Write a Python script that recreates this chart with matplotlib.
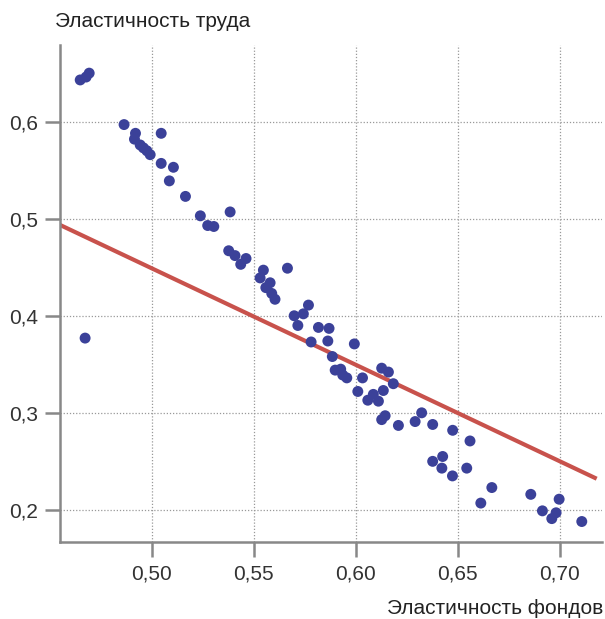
"""Эластичность труда vs эластичность фондов
"""
import matplotlib
matplotlib.use('Agg')
import matplotlib.pyplot as plt
from matplotlib.ticker import FuncFormatter

# points
elast_fondov = [0.4650, 0.4679, 0.4694, 0.4674, 0.4865, 0.4921, 0.4916, 0.4944,
                0.4960, 0.4977, 0.4993, 0.5047, 0.5047, 0.5107, 0.5087, 0.5166,
                0.5239, 0.5275, 0.5305, 0.5385, 0.5378, 0.5409, 0.5437, 0.5463,
                0.5548, 0.5532, 0.5581, 0.5560, 0.5589, 0.5605, 0.5666, 0.5699,
                0.5717, 0.5769, 0.5744, 0.5782, 0.5818, 0.5870, 0.5864, 0.5886,
                0.5900, 0.5927, 0.5937, 0.5957, 0.5994, 0.6011, 0.6034, 0.6060,
                0.6087, 0.6112, 0.6128, 0.6161, 0.6136, 0.6185, 0.6128, 0.6145,
                0.6210, 0.6292, 0.6324, 0.6378, 0.6476, 0.6561, 0.6378, 0.6427,
                0.6423, 0.6475, 0.6545, 0.6668, 0.6614, 0.6859, 0.6916, 0.6962,
                0.6983, 0.6998, 0.7109]
elast_truda = [0.643, 0.646, 0.650, 0.377, 0.597, 0.588, 0.582, 0.576,
               0.573, 0.570, 0.566, 0.588, 0.557, 0.553, 0.539, 0.523,
               0.503, 0.493, 0.492, 0.507, 0.467, 0.462, 0.453, 0.459,
               0.447, 0.439, 0.434, 0.429, 0.423, 0.417, 0.449, 0.400,
               0.390, 0.411, 0.402, 0.373, 0.388, 0.387, 0.374, 0.358,
               0.344, 0.345, 0.339, 0.336, 0.371, 0.322, 0.336, 0.313,
               0.319, 0.312, 0.346, 0.342, 0.323, 0.330, 0.293, 0.297,
               0.287, 0.291, 0.300, 0.288, 0.282, 0.271, 0.250, 0.255,
               0.243, 0.235, 0.243, 0.223, 0.207, 0.216, 0.199, 0.191,
               0.197, 0.211, 0.188]

# trend line ends
trend_x = [0.4551, 0.7182]
trend_y = [0.4936, 0.2321]

x_ticks = [0.50, 0.55, 0.60, 0.65, 0.70]
y_ticks = [0.2, 0.3, 0.4, 0.5, 0.6]

plt.rcParams['font.family'] = ['Liberation Sans', 'DejaVu Sans']

fig = plt.figure(figsize=(6.05, 6.19), dpi=100)
ax = fig.add_axes([0.0992, 0.1244, 0.8958, 0.8029])

ax.plot(trend_x, trend_y, color='#c8524c', linewidth=3, zorder=2, solid_capstyle='butt')
ax.scatter(elast_fondov, elast_truda, s=62, color='#3b4199', edgecolors='none', zorder=3)

ax.set_xlim(0.4551, 0.7208)
ax.set_ylim(0.1669, 0.679)
ax.set_xticks(x_ticks)
ax.set_yticks(y_ticks)
ax.xaxis.set_major_formatter(FuncFormatter(lambda v, p: '{:.2f}'.format(v).replace('.', ',')))
ax.yaxis.set_major_formatter(FuncFormatter(lambda v, p: '{:.1f}'.format(v).replace('.', ',')))

ax.grid(True, linestyle=(0, (1, 1.5)), color='#999999', linewidth=0.9, zorder=0)
ax.set_axisbelow(True)

for side in ['top', 'right']:
    ax.spines[side].set_visible(False)
for side in ['left', 'bottom']:
    ax.spines[side].set_color('#888888')
    ax.spines[side].set_linewidth(1.8)
ax.tick_params(axis='both', direction='out', length=11, width=1.8, color='#888888',
               labelsize=15, labelcolor='#333333')
ax.tick_params(axis='y', pad=5)
ax.tick_params(axis='x', pad=5)

fig.text(0.091, 0.965, 'Эластичность труда', fontsize=15, color='#222222', va='center', ha='left')
fig.text(0.997, 0.017, 'Эластичность фондов', fontsize=15, color='#222222', va='center', ha='right')

fig.savefig('out.png', dpi=100)
